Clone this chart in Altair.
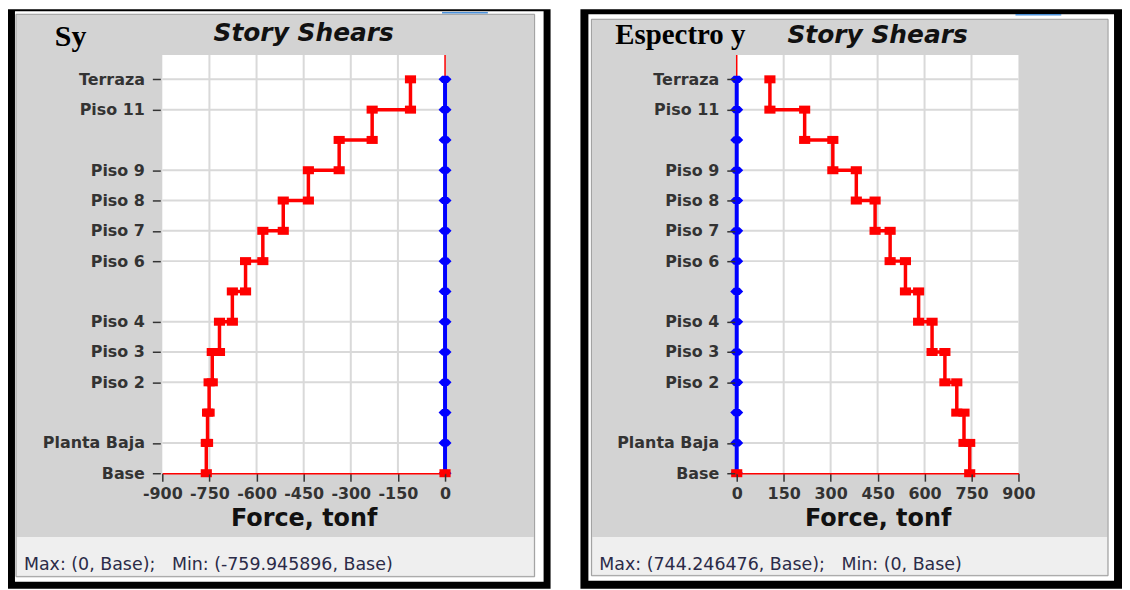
import json
import altair as alt
import pandas as pd

# ---------------- data ----------------
levels = ["Base", "Planta Baja", "Piso 1", "Piso 2", "Piso 3", "Piso 4", "Piso 5",
          "Piso 6", "Piso 7", "Piso 8", "Piso 9", "Piso 10", "Piso 11", "Terraza"]
level_labels = ["Base", "Planta Baja", "", "Piso 2", "Piso 3", "Piso 4", "",
                "Piso 6", "Piso 7", "Piso 8", "Piso 9", "", "Piso 11", "Terraza"]
stories = ["Terraza", "Piso 11", "Piso 10", "Piso 9", "Piso 8", "Piso 7", "Piso 6",
           "Piso 5", "Piso 4", "Piso 3", "Piso 2", "Piso 1", "Planta Baja"]
sy_shear = [-110, -232, -337, -435, -515, -580, -635, -677, -718, -741, -751, -756, -759.95]
ey_shear = [106, 217, 307, 382, 442, 490, 539, 581, 624, 665, 703, 726, 744.25]
sy_ticks = [-900, -750, -600, -450, -300, -150, 0]
ey_ticks = [0, 150, 300, 450, 600, 750, 900]
sy_domain = [-900, 0]
ey_domain = [0, 900]
y_top = 13.8
sy_label = "Sy"
ey_label = "Espectro y"
chart_title = "Story Shears"
x_title = "Force, tonf"
sy_footer = "Max: (0, Base);\u00a0\u00a0\u00a0Min: (-759.945896, Base)"
ey_footer = "Max: (744.246476, Base);\u00a0\u00a0\u00a0Min: (0, Base)"

SANS = "DejaVu Sans"
ONE = pd.DataFrame({"k": [0]})


def step_df(shear):
    rows = []
    for i, (s, v) in enumerate(zip(stories, shear)):
        top = levels.index(s)
        rows.append({"v": v, "lvl": top, "o": 2 * i})
        rows.append({"v": v, "lvl": top - 1, "o": 2 * i + 1})
    return pd.DataFrame(rows)


def rect(x1, x2, y1, y2, **kw):
    return alt.Chart(ONE).mark_rect(**kw).encode(
        x=alt.value(x1), x2=alt.value(x2), y=alt.value(y1), y2=alt.value(y2))


def hrule(x1, x2, y, **kw):
    return alt.Chart(ONE).mark_rule(**kw).encode(
        x=alt.value(x1), x2=alt.value(x2), y=alt.value(y))


def text(t, x, y, **kw):
    return alt.Chart(ONE).mark_text(text=t, **kw).encode(x=alt.value(x), y=alt.value(y))


DIAMOND = "M-1,0L-0.45,-0.55L0.45,-0.55L1,0L0.45,0.55L-0.45,0.55Z"
SQUARE = "M-1,-0.72L1,-0.72L1,0.72L-1,0.72Z"


def panel(shear, ticks, domain, W, H, fr, label, label_x, label_y, label_size,
          title_y, footer, footer_x):
    xs = alt.Scale(domain=domain, nice=False, zero=False)
    ys = alt.Scale(domain=[0, y_top], nice=False, zero=False)
    labeled = [i for i, l in enumerate(level_labels) if l]

    x_axis = alt.Axis(values=ticks, title=x_title, titleFont=SANS, titleFontSize=24,
                      titleFontWeight="bold", titleColor="#111111", titlePadding=6,
                      labelFont=SANS, labelFontSize=16, labelFontWeight="bold",
                      labelColor="#333333",
                      labelFlush=False, labelOverlap=False, labelPadding=4,
                      labelExpr="'' + datum.value",
                      tickSize=8, tickColor="#333333", tickWidth=1.5,
                      domainColor="#ff0000", domainWidth=1.5, grid=False, zindex=1)
    y_axis = alt.Axis(values=labeled, labelExpr=json.dumps(level_labels) + "[datum.value]",
                      title=None, domain=False, grid=False, offset=2, tickSize=8,
                      tickColor="#333333", tickWidth=1.5, labelPadding=8,
                      labelFont=SANS, labelFontSize=16, labelFontWeight="bold",
                      labelColor="#333333", zindex=1)

    def X(f="v"):
        return alt.X(f + ":Q", scale=xs, axis=x_axis)

    def Y(f="lvl"):
        return alt.Y(f + ":Q", scale=ys, axis=y_axis)

    lvl_df = pd.DataFrame({"lvl": list(range(len(levels))), "v": [0] * len(levels)})
    st = step_df(shear)
    sq = pd.concat([st, pd.DataFrame({"v": [0], "lvl": [0], "o": [99]})], ignore_index=True)

    layers = [
        rect(*fr["black"], color="#000000"),
        rect(*fr["white"], color="#ffffff"),
        rect(*fr["border"], fill="#d3d3d3", stroke="#999999", strokeWidth=1),
        rect(*fr["footer"], color="#efefef"),
        hrule(*fr["blue"], color="#4a90d9", strokeWidth=1.5),
        rect(0, W, 0, H, color="#ffffff"),
        alt.Chart(pd.DataFrame({"v": ticks[1:-1]})).mark_rule(color="#d9d9d9", strokeWidth=2)
        .encode(x=X()),
        alt.Chart(pd.DataFrame({"lvl": labeled[1:]})).mark_rule(color="#d9d9d9", strokeWidth=2)
        .encode(y=Y()),
        alt.Chart(pd.DataFrame({"v": [0]})).mark_rule(color="#ff0000", strokeWidth=1.5)
        .encode(x=X()),
        alt.Chart(lvl_df).mark_line(color="#0000ff", strokeWidth=4)
        .encode(x=X(), y=Y(), order="lvl:Q"),
        alt.Chart(lvl_df).mark_point(shape=DIAMOND, filled=True, size=169, color="#0000ff",
                                     opacity=1)
        .encode(x=X(), y=Y()),
        alt.Chart(st).mark_line(color="#ff0000", strokeWidth=3.5)
        .encode(x=X(), y=Y(), order="o:Q"),
        alt.Chart(sq).mark_point(shape=SQUARE, filled=True, size=125, color="#ff0000",
                                 opacity=1)
        .encode(x=X(), y=Y()),
        text(label, label_x, label_y, font="Liberation Serif", fontSize=label_size,
             fontWeight="bold", align="left", baseline="alphabetic", color="#000000"),
        text(chart_title, W / 2, title_y, font=SANS, fontSize=25, fontWeight="bold",
             fontStyle="italic", align="center", baseline="alphabetic", color="#111111"),
        text(footer, footer_x, 512, font=SANS, fontSize=17.5, align="left",
             baseline="middle", color="#2b2b48"),
    ]
    return alt.layer(*layers).properties(width=W, height=H)


H = 420
left_frame = {
    "black": (-155, 390, -46, 536),
    "white": (-148, 383, -44, 529),
    "border": (-147, 374, -41, 524),
    "footer": (-146, 373, 484, 523),
    "blue": (281, 327, -42.5),
}
right_frame = {
    "black": (-157, 387, -46, 536),
    "white": (-149, 379, -41, 528),
    "border": (-146, 373, -36, 523),
    "footer": (-145, 372, 484, 522),
    "blue": (280, 326, -40.5),
}

left = panel(sy_shear, sy_ticks, sy_domain, 284, H, left_frame, sy_label,
             -108, -9, 30, -14, sy_footer, -139)
right = panel(ey_shear, ey_ticks, ey_domain, 283, H, right_frame, ey_label,
              -122, -11, 29, -12, ey_footer, -138)

chart = alt.hconcat(left, right, spacing=30).configure_view(strokeWidth=0).properties(
    padding=0, background="#ffffff")

chart.save("out.html", embed_options={"renderer": "svg", "actions": False})
